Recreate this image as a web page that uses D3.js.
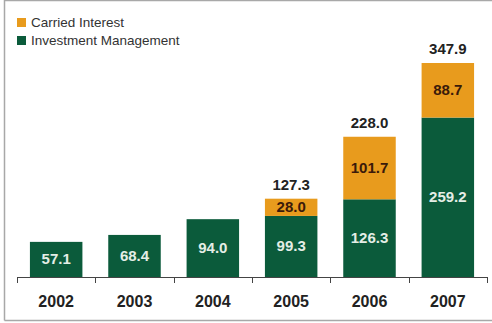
<!DOCTYPE html>
<html>
<head>
<meta charset="utf-8">
<script src="https://cdn.jsdelivr.net/npm/d3@7.9.0/dist/d3.min.js"></script>
<style>
  body { margin: 0; background: #fff; }
  svg { display: block; font-family: Arial, "Liberation Sans", sans-serif; }
</style>
</head>
<body>
<svg id="chart" width="492" height="323"></svg>
<script>
const years = ['2002', '2003', '2004', '2005', '2006', '2007'];
const investmentMgmt = [57.1, 68.4, 94.0, 99.3, 126.3, 259.2];
const carriedInterest = [0, 0, 0, 28.0, 101.7, 88.7];
const totals = [null, null, null, 127.3, 228.0, 347.9];

const seriesNames = ['Carried Interest', 'Investment Management'];
const green = '#0b5b3b';
const orange = '#e89b1d';

const svg = d3.select('#chart');

// frame
svg.append('path')
    .attr('d', 'M4.5,320.5 V0.5 H492 M4.5,320.5 H492')
    .attr('fill', 'none')
    .attr('stroke', '#a8a8a8')
    .attr('stroke-width', 1.5);

const data = years.map((y, i) => ({
    year: y,
    im: investmentMgmt[i],
    ci: carriedInterest[i],
    total: totals[i]
}));

const x = d3.scaleBand()
    .domain(years)
    .range([17, 487])
    .paddingInner(0.33)
    .paddingOuter(0.165);

const y = d3.scaleLinear()
    .domain([0, 347.9])
    .range([277, 63]);

const stack = d3.stack().keys(['im', 'ci'])(data);
const colors = { im: green, ci: orange };

const layers = svg.selectAll('g.layer')
    .data(stack)
    .enter()
    .append('g')
    .attr('class', 'layer')
    .attr('fill', d => colors[d.key]);

layers.selectAll('rect')
    .data(d => d.filter(s => s[1] > s[0]))
    .enter()
    .append('rect')
    .attr('x', d => x(d.data.year))
    .attr('width', x.bandwidth())
    .attr('y', d => y(d[1]))
    .attr('height', d => y(d[0]) - y(d[1]));

// segment labels
stack.forEach(layer => {
    svg.append('g')
        .selectAll('text')
        .data(layer.filter(s => s[1] > s[0]))
        .enter()
        .append('text')
        .attr('x', d => x(d.data.year) + x.bandwidth() / 2)
        .attr('y', d => (y(d[0]) + y(d[1])) / 2 + 5)
        .attr('text-anchor', 'middle')
        .style('font-size', '15px')
        .style('font-weight', 'bold')
        .style('fill', layer.key === 'im' ? '#e4eee6' : '#3a1a0a')
        .text(d => (d[1] - d[0]).toFixed(1));
});

// totals
svg.append('g')
    .selectAll('text')
    .data(data.filter(d => d.total !== null))
    .enter()
    .append('text')
    .attr('x', d => x(d.year) + x.bandwidth() / 2)
    .attr('y', d => y(d.total) - 9)
    .attr('text-anchor', 'middle')
    .style('font-size', '15px')
    .style('font-weight', 'bold')
    .style('fill', '#222')
    .text(d => d.total.toFixed(1));

// axis
const axis = svg.append('g');
axis.append('line')
    .attr('x1', 17).attr('x2', 487)
    .attr('y1', 277.5).attr('y2', 277.5)
    .attr('stroke', '#444');
const edges = years.map(yr => x(yr) - x.step() * x.paddingInner() / 2).concat([487]);
edges[0] = 17;
axis.selectAll('line.tick')
    .data(edges)
    .enter()
    .append('line')
    .attr('class', 'tick')
    .attr('x1', d => Math.round(d) + 0.5).attr('x2', d => Math.round(d) + 0.5)
    .attr('y1', 277).attr('y2', 283)
    .attr('stroke', '#444');

axis.selectAll('text')
    .data(years)
    .enter()
    .append('text')
    .attr('x', d => x(d) + x.bandwidth() / 2)
    .attr('y', 307)
    .attr('text-anchor', 'middle')
    .style('font-size', '16px')
    .style('font-weight', 'bold')
    .style('fill', '#222')
    .text(d => d);

// legend
const legend = svg.append('g');
const legendColors = [orange, green];
seriesNames.forEach((name, i) => {
    const ly = 18 + i * 18;
    legend.append('rect')
        .attr('x', 17).attr('y', ly)
        .attr('width', 9).attr('height', 9)
        .attr('fill', legendColors[i]);
    legend.append('text')
        .attr('x', 31).attr('y', ly + 9)
        .style('font-size', '13.5px')
        .style('fill', '#333')
        .text(name);
});
</script>
</body>
</html>
